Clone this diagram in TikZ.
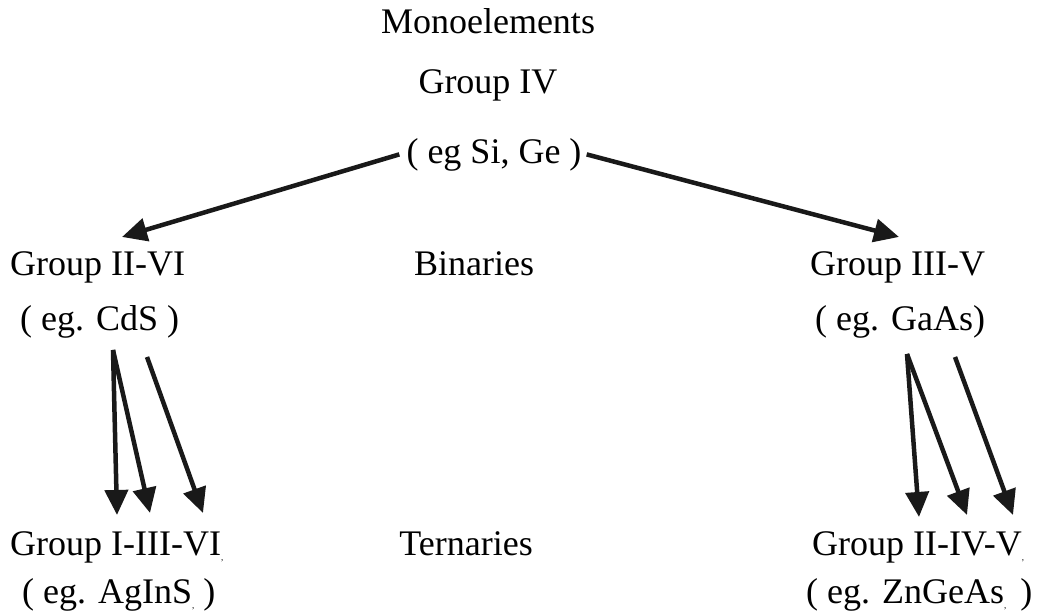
\documentclass[tikz,border=0pt]{standalone}
\usepackage{fontspec}
\setmainfont{Liberation Serif}
\usepackage{tikz}
\usetikzlibrary{positioning,arrows.meta,calc}

\newcommand{\tinysub}{\raisebox{-5pt}{\fontsize{9}{10}\selectfont ,}}

\begin{document}
\begin{tikzpicture}[x=1pt, y=-1pt,
    lbl/.style={inner sep=0pt, font=\fontsize{36}{43}\selectfont},
    bigarrow/.style={-{Triangle[length=25pt, width=23pt]}, line width=4.5pt, draw=black!90}]
\useasboundingbox (0,0) rectangle (1039,614);

% Top: monoelements
\node[lbl, anchor=base] (mono)  at (488,33)  {Monoelements};
\node[lbl, anchor=base] (grpIV) at (488,93)  {Group IV};
\node[lbl, anchor=base] (egIV)  at (494,163) {( eg Si, Ge )};

% Binaries row
\node[lbl, anchor=base west] (grpIIVI)  at (10,275)  {Group II-VI};
\node[lbl, anchor=base west] (egCdS)    at (20,330)  {( eg. CdS )};
\node[lbl, anchor=base]      (binaries) at (474,275) {Binaries};
\node[lbl, anchor=base west] (grpIIIV)  at (810,275) {Group III-V};
\node[lbl, anchor=base west] (egGaAs)   at (815,330) {( eg. GaAs)};

% Ternaries row
\node[lbl, anchor=base west] (grpIIIIVI) at (10,555)  {Group I-III-VI\tinysub};
\node[lbl, anchor=base west] (egAgInS)   at (22,603)  {( eg. AgInS\tinysub\ )};
\node[lbl, anchor=base]      (ternaries) at (466,555) {Ternaries};
\node[lbl, anchor=base west] (grpIIIVV)  at (812,555) {Group II-IV-V\tinysub};
\node[lbl, anchor=base west] (egZnGeAs)  at (806,603) {( eg. ZnGeAs\tinysub\hspace{5pt}\ )};

% Monoelements to binaries
\draw[bigarrow] ($(egIV.west)+(-7,0)$) -- ($(grpIIVI.north west)+(112,-14)$);
\draw[bigarrow] ($(egIV.east)+(5,0)$) -- ($(grpIIIV.north west)+(89,-14)$);

% Binaries to ternaries (left)
\draw[bigarrow] ($(egCdS.south west)+(93,12)$) -- ($(grpIIIIVI.north west)+(107,-16)$);
\draw[bigarrow] ($(egCdS.south west)+(93,12)$) -- ($(grpIIIIVI.north west)+(140,-18)$);
\draw[bigarrow] ($(egCdS.south west)+(127,19)$) -- ($(grpIIIIVI.north west)+(193,-18)$);

% Binaries to ternaries (right)
\draw[bigarrow] ($(egGaAs.south west)+(92,16)$) -- ($(grpIIIVV.north west)+(107,-14)$);
\draw[bigarrow] ($(egGaAs.south west)+(92,16)$) -- ($(grpIIIVV.north west)+(155,-16)$);
\draw[bigarrow] ($(egGaAs.south west)+(140,19)$) -- ($(grpIIIVV.north west)+(201,-16)$);
\end{tikzpicture}
\end{document}
